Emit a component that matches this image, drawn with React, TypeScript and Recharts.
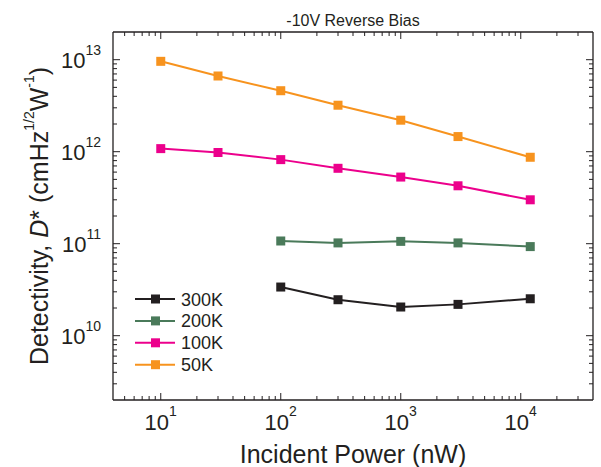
import React from "react";
import { Legend, Line, LineChart, XAxis, YAxis } from "recharts";

// incident optical power (nW)
const power = [10, 30, 100, 300, 1000, 3000, 12000];
const powerWarm = [100, 300, 1000, 3000, 12000];

// specific detectivity D* (cm Hz^1/2 W^-1) at -10 V
const det50K = [9.6e12, 6.65e12, 4.6e12, 3.2e12, 2.2e12, 1.46e12, 8.7e11];
const det100K = [1.08e12, 9.8e11, 8.2e11, 6.6e11, 5.3e11, 4.26e11, 3.0e11];
const det200K = [1.07e11, 1.02e11, 1.06e11, 1.02e11, 9.3e10];
const det300K = [3.38e10, 2.46e10, 2.05e10, 2.19e10, 2.52e10];

const xDomain: [number, number] = [4, 40000];
const yDomain: [number, number] = [2e9, 2e13];
const xDecades = [1, 10, 100, 1000, 10000];
const yDecades = [1e9, 1e10, 1e11, 1e12, 1e13];

const INK = "#231F20";
const FONT = "'Liberation Sans', Arial, sans-serif";

const logTicks = (decades: number[], [lo, hi]: [number, number]) =>
  decades
    .flatMap((d) => [1, 2, 3, 4, 5, 6, 7, 8, 9].map((k) => d * k))
    .filter((v) => v > lo && v < hi);

const xTicks = logTicks(xDecades, xDomain);
const yTicks = logTicks(yDecades, yDomain);

const isMajor = (v: number) => Math.abs(Math.log10(v) - Math.round(Math.log10(v))) < 1e-9;
const expOf = (v: number) => Math.round(Math.log10(v));

const toPoints = (xs: number[], ys: number[]) => xs.map((x, i) => ({ x, y: ys[i] }));

const series = [
  { name: "300K", color: "#231F20", data: toPoints(powerWarm, det300K) },
  { name: "200K", color: "#4A7A5A", data: toPoints(powerWarm, det200K) },
  { name: "100K", color: "#EC008C", data: toPoints(power, det100K) },
  { name: "50K", color: "#F7931E", data: toPoints(power, det50K) },
];

const squareDot = (color: string) => (props: any) => (
  <rect
    key={`${color}-${props.index}`}
    x={props.cx - 4.5}
    y={props.cy - 4.5}
    width={9}
    height={9}
    fill={color}
  />
);

const BottomTick = ({ x, y, payload }: any) => {
  const major = isMajor(payload.value);
  return (
    <g>
      <line x1={x} y1={y} x2={x} y2={y - (major ? 7 : 4)} stroke={INK} strokeWidth={1} />
      {major && (
        <text x={x} y={y + 30} textAnchor="middle" fontSize={22} fontFamily={FONT} fill={INK}>
          10
          <tspan dy={-14} fontSize={14}>
            {expOf(payload.value)}
          </tspan>
        </text>
      )}
    </g>
  );
};

const TopTick = ({ x, y, payload }: any) => (
  <line x1={x} y1={y} x2={x} y2={y + (isMajor(payload.value) ? 7 : 4)} stroke={INK} strokeWidth={1} />
);

const LeftTick = ({ x, y, payload }: any) => {
  const major = isMajor(payload.value);
  return (
    <g>
      <line x1={x} y1={y} x2={x + (major ? 7 : 4)} y2={y} stroke={INK} strokeWidth={1} />
      {major && (
        <text x={x - 12} y={y + 8} textAnchor="end" fontSize={22} fontFamily={FONT} fill={INK}>
          10
          <tspan dy={-13} fontSize={14}>
            {expOf(payload.value)}
          </tspan>
        </text>
      )}
    </g>
  );
};

const RightTick = ({ x, y, payload }: any) => (
  <line x1={x} y1={y} x2={x - (isMajor(payload.value) ? 7 : 4)} y2={y} stroke={INK} strokeWidth={1} />
);

const XTitle = ({ viewBox }: any) => (
  <text
    x={viewBox.x + viewBox.width / 2}
    y={viewBox.y + 63}
    textAnchor="middle"
    fontSize={25}
    fontFamily={FONT}
    fill={INK}
  >
    Incident Power (nW)
  </text>
);

const PlotTitle = ({ viewBox }: any) => (
  <text
    x={viewBox.x + viewBox.width / 2}
    y={26}
    textAnchor="middle"
    fontSize={16}
    fontFamily={FONT}
    fill={INK}
  >
    -10V Reverse Bias
  </text>
);

const YTitle = ({ viewBox }: any) => {
  const cx = 39;
  const cy = viewBox.y + viewBox.height / 2;
  return (
    <text
      x={cx}
      y={cy}
      transform={`rotate(-90 ${cx} ${cy})`}
      textAnchor="middle"
      dominantBaseline="central"
      fontSize={25}
      fontFamily={FONT}
      fill={INK}
    >
      Detectivity, <tspan fontStyle="italic">D</tspan>* (cmHz
      <tspan dy={-10} fontSize={14}>1/2</tspan>
      <tspan dy={10}>W</tspan>
      <tspan dy={-10} fontSize={14}>-1</tspan>
      <tspan dy={10}>)</tspan>
    </text>
  );
};

const LegendBox = () => (
  <svg width={130} height={92} style={{ display: "block" }}>
    {series.map((s, i) => {
      const cy = 10 + i * 21.9;
      return (
        <g key={s.name}>
          <line x1={0} x2={40} y1={cy} y2={cy} stroke={s.color} strokeWidth={2} />
          <rect x={16} y={cy - 4.5} width={9} height={9} fill={s.color} />
          <text x={46} y={cy + 6.5} fontSize={18} fontFamily={FONT} fill={INK}>
            {s.name}
          </text>
        </g>
      );
    })}
  </svg>
);

export default function App() {
  return (
    <div style={{ position: "fixed", left: 0, top: 0, width: 601, height: 467, background: "#fff" }}>
      <LineChart width={601} height={467} margin={{ top: 0, right: 0, bottom: 7, left: 13 }}>
        <XAxis
          dataKey="x"
          type="number"
          scale="log"
          domain={xDomain}
          allowDataOverflow
          ticks={xTicks}
          interval={0}
          height={60}
          tickSize={0}
          tickMargin={0}
          tickLine={false}
          axisLine={{ stroke: INK, strokeWidth: 1.3 }}
          tick={BottomTick}
          label={{ content: XTitle }}
        />
        <XAxis
          xAxisId="top"
          orientation="top"
          dataKey="x"
          type="number"
          scale="log"
          domain={xDomain}
          allowDataOverflow
          ticks={xTicks}
          interval={0}
          height={32}
          tickSize={0}
          tickMargin={0}
          tickLine={false}
          axisLine={{ stroke: INK, strokeWidth: 1.3 }}
          tick={TopTick}
          label={{ content: PlotTitle }}
        />
        <YAxis
          dataKey="y"
          type="number"
          scale="log"
          domain={yDomain}
          allowDataOverflow
          ticks={yTicks}
          interval={0}
          width={100}
          tickSize={0}
          tickMargin={0}
          tickLine={false}
          axisLine={{ stroke: INK, strokeWidth: 1.3 }}
          tick={LeftTick}
          label={{ content: YTitle }}
        />
        <YAxis
          yAxisId="right"
          orientation="right"
          dataKey="y"
          type="number"
          scale="log"
          domain={yDomain}
          allowDataOverflow
          ticks={yTicks}
          interval={0}
          width={8}
          tickSize={0}
          tickMargin={0}
          tickLine={false}
          axisLine={{ stroke: INK, strokeWidth: 1.3 }}
          tick={RightTick}
        />
        <Legend
          layout="vertical"
          align="center"
          verticalAlign="middle"
          wrapperStyle={{ left: 135, top: 289, width: 130, height: 92 }}
          content={LegendBox}
        />
        {series.map((s) => (
          <Line
            key={s.name}
            data={s.data}
            dataKey="y"
            name={s.name}
            type="linear"
            stroke={s.color}
            strokeWidth={2}
            dot={squareDot(s.color)}
            activeDot={false}
            isAnimationActive={false}
          />
        ))}
      </LineChart>
    </div>
  );
}
